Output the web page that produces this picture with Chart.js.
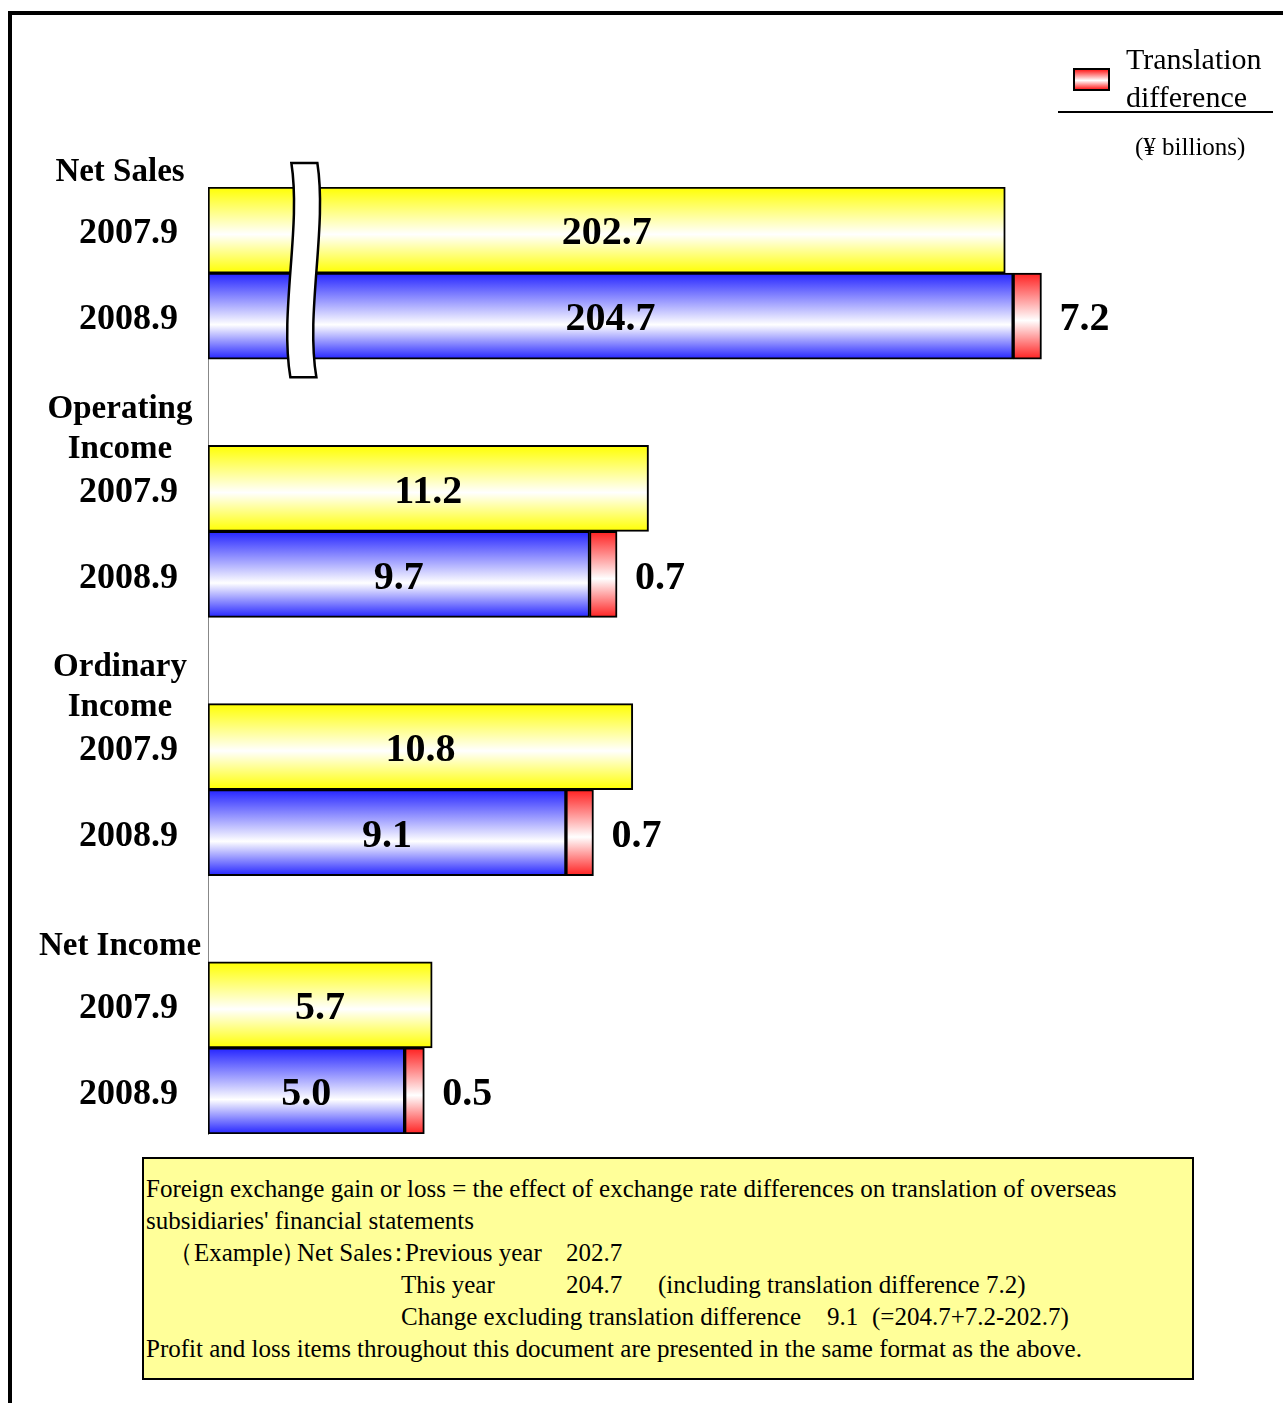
<!DOCTYPE html>
<html>
<head>
<meta charset="utf-8">
<script src="https://cdn.jsdelivr.net/npm/chart.js@4.4.0/dist/chart.umd.min.js"></script>
<style>
  body { margin: 0; background: #fff; font-family: "Liberation Serif", serif; }
  #frame { position: absolute; left: 8px; top: 11px; width: 1300px; height: 1420px; border-top: 4px solid #000; border-left: 4px solid #000; }
  #wrap { position: absolute; left: 0; top: 0; width: 1283px; height: 1150px; }
  .abs { position: absolute; white-space: nowrap; }
  #swatch { left: 1073px; top: 68px; width: 33px; height: 19px; border: 2px solid #000; background: linear-gradient(to bottom, #ff2020, #fff 55%, #ff2020); }
  #legtext { left: 1126px; top: 40px; font-size: 30px; line-height: 38px; }
  #rule { left: 1058px; top: 111px; width: 215px; height: 2px; background: #000; }
  #unit { left: 1135px; top: 132px; font-size: 25px; line-height: 30px; }
  #note { position: absolute; left: 142px; top: 1157px; width: 1052px; height: 223px; box-sizing: border-box; border: 2px solid #000; background: #ffff99; padding: 14px 0 0 2px; font-size: 25px; line-height: 32px; }
  #note .ln { position: relative; height: 32px; white-space: nowrap; }
  #note .ln span { position: absolute; top: 0; }
</style>
</head>
<body>
<div id="frame"></div>
<div id="wrap"><canvas id="chart"></canvas></div>

<div class="abs" id="swatch"></div>
<div class="abs" id="legtext">Translation<br>difference</div>
<div class="abs" id="rule"></div>
<div class="abs" id="unit">(¥ billions)</div>

<div id="note">
  <div class="ln"><span style="left:0">Foreign exchange gain or loss = the effect of exchange rate differences on translation of overseas</span></div>
  <div class="ln"><span style="left:0">subsidiaries' financial statements</span></div>
  <div class="ln"><span style="left:22px">（</span><span style="left:48px">Example</span><span style="left:135px">）</span><span style="left:151px">Net Sales</span><span style="left:240px">：</span><span style="left:259px">Previous year</span><span style="left:420px">202.7</span></div>
  <div class="ln"><span style="left:255px">This year</span><span style="left:420px">204.7</span><span style="left:512px">(including translation difference 7.2)</span></div>
  <div class="ln"><span style="left:255px">Change excluding translation difference</span><span style="left:681px">9.1</span><span style="left:726px">(=204.7+7.2-202.7)</span></div>
  <div class="ln"><span style="left:0">Profit and loss items throughout this document are presented in the same format as the above.</span></div>
</div>

<script>
const GROUPS = [['Net Sales'], ['Operating', 'Income'], ['Ordinary', 'Income'], ['Net Income']];
const PERIODS = ['2007.9', '2008.9'];
const prevYear = [202.7, 11.2, 10.8, 5.7];      // 2007.9
const thisYear = [204.7, 9.7, 9.1, 5.0];        // 2008.9
const translation = [7.2, 0.7, 0.7, 0.5];       // translation difference (2008.9)

// Net Sales bars are drawn on a broken (compressed) axis
const NET_SALES_SCALE = 0.1;
const BREAK_AT = 2.45;

// three slots per group: 2007.9, 2008.9, gap (last gap dropped)
const LABELS = [];
GROUPS.forEach((g, i) => {
  LABELS.push(PERIODS[0], PERIODS[1]);
  if (i < GROUPS.length - 1) LABELS.push('');
});

function plotted(v, g) { return g === 0 ? v * NET_SALES_SCALE : v; }
function slotData(values, offset) {
  const out = LABELS.map(() => null);
  values.forEach((v, g) => { out[g * 3 + offset] = plotted(v, g); });
  return out;
}

function band(color, mid) {
  return (c) => {
    const chart = c.chart;
    const y = chart.scales.y;
    if (!chart.chartArea || !y || c.dataIndex === undefined) return color;
    const cy = y.getPixelForValue(c.dataIndex);
    const h = chart.chartArea.height / LABELS.length;
    const gr = chart.ctx.createLinearGradient(0, cy - h / 2, 0, cy + h / 2);
    gr.addColorStop(0, color);
    gr.addColorStop(mid, '#ffffff');
    gr.addColorStop(1, color);
    return gr;
  };
}

const SERIES = [prevYear, thisYear, translation];

const groupTitles = {
  id: 'groupTitles',
  afterDraw(chart) {
    const ctx = chart.ctx, y = chart.scales.y;
    ctx.save();
    ctx.font = 'bold 33px "Liberation Serif"';
    ctx.fillStyle = '#000';
    ctx.textAlign = 'center';
    ctx.textBaseline = 'middle';
    GROUPS.forEach((lines, g) => {
      const cy = y.getPixelForValue(g * 3);
      const n = lines.length;
      const bottom = n === 1 ? 58 : 39;
      lines.forEach((t, j) => {
        ctx.fillText(t, chart.chartArea.left - 88, cy - bottom - (n - 1 - j) * 40);
      });
    });
    ctx.restore();
  }
};

const axisBreak = {
  id: 'axisBreak',
  afterDatasetsDraw(chart) {
    const ctx = chart.ctx, y = chart.scales.y;
    const slot = chart.chartArea.height / LABELS.length;
    const cx = chart.scales.x.getPixelForValue(BREAK_AT);
    const top = y.getPixelForValue(0) - slot / 2 - 24;
    const bot = y.getPixelForValue(1) + slot / 2 + 18;
    const h = bot - top;
    ctx.save();
    ctx.beginPath();
    ctx.moveTo(cx - 13, top);
    ctx.bezierCurveTo(cx - 3, top + 0.3 * h, cx - 25, top + 0.7 * h, cx - 14, bot);
    ctx.lineTo(cx + 12, bot);
    ctx.bezierCurveTo(cx + 1, top + 0.7 * h, cx + 23, top + 0.3 * h, cx + 13, top);
    ctx.closePath();
    ctx.fillStyle = '#fff';
    ctx.fill();
    ctx.lineWidth = 2.5;
    ctx.strokeStyle = '#000';
    ctx.stroke();
    ctx.restore();
  }
};

const valueLabels = {
  id: 'valueLabels',
  afterDraw(chart) {
    const ctx = chart.ctx;
    ctx.save();
    ctx.font = 'bold 40px "Liberation Serif"';
    ctx.fillStyle = '#000';
    ctx.textBaseline = 'middle';
    [0, 1, 2].forEach((d) => {
      const meta = chart.getDatasetMeta(d);
      meta.data.forEach((el, i) => {
        if (chart.data.datasets[d].data[i] === null) return;
        const g = Math.floor(i / 3);
        const txt = SERIES[d][g].toFixed(1);
        if (d < 2) {
          ctx.textAlign = 'center';
          ctx.fillText(txt, (el.x + el.base) / 2, el.y + 4);
        } else {
          ctx.textAlign = 'left';
          ctx.fillText(txt, el.x + 18, el.y + 4);
        }
      });
    });
    ctx.restore();
  }
};

new Chart(document.getElementById('chart'), {
  type: 'bar',
  data: {
    labels: LABELS,
    datasets: [
      {
        label: PERIODS[0],
        data: slotData(prevYear, 0),
        backgroundColor: band('#ffff00', 0.55),
        borderColor: '#000',
        borderWidth: 2,
        borderSkipped: false
      },
      {
        label: PERIODS[1],
        data: slotData(thisYear, 1),
        backgroundColor: band('#2424ff', 0.6),
        borderColor: '#000',
        borderWidth: 2,
        borderSkipped: false
      },
      {
        label: 'Translation difference',
        data: slotData(translation, 1),
        backgroundColor: band('#ff2020', 0.55),
        borderColor: '#000',
        borderWidth: 2,
        borderSkipped: false
      }
    ]
  },
  options: {
    indexAxis: 'y',
    responsive: true,
    maintainAspectRatio: false,
    animation: false,
    layout: { padding: { left: 8, top: 187, right: 13, bottom: 16 } },
    datasets: { bar: { barPercentage: 1, categoryPercentage: 1 } },
    plugins: { legend: { display: false }, tooltip: { enabled: false } },
    scales: {
      x: { stacked: true, min: 0, max: 27, display: false },
      y: {
        stacked: true,
        afterFit: (scale) => {
          scale.width = 200;
          scale.paddingTop = 0;
          scale.paddingBottom = 0;
        },
        grid: { display: false, drawTicks: false },
        border: { display: true, color: '#888', width: 1 },
        ticks: {
          padding: 30,
          labelOffset: 4,
          color: '#000',
          font: { family: 'Liberation Serif', size: 36, weight: 'bold' }
        }
      }
    }
  },
  plugins: [groupTitles, axisBreak, valueLabels]
});
</script>
</body>
</html>
